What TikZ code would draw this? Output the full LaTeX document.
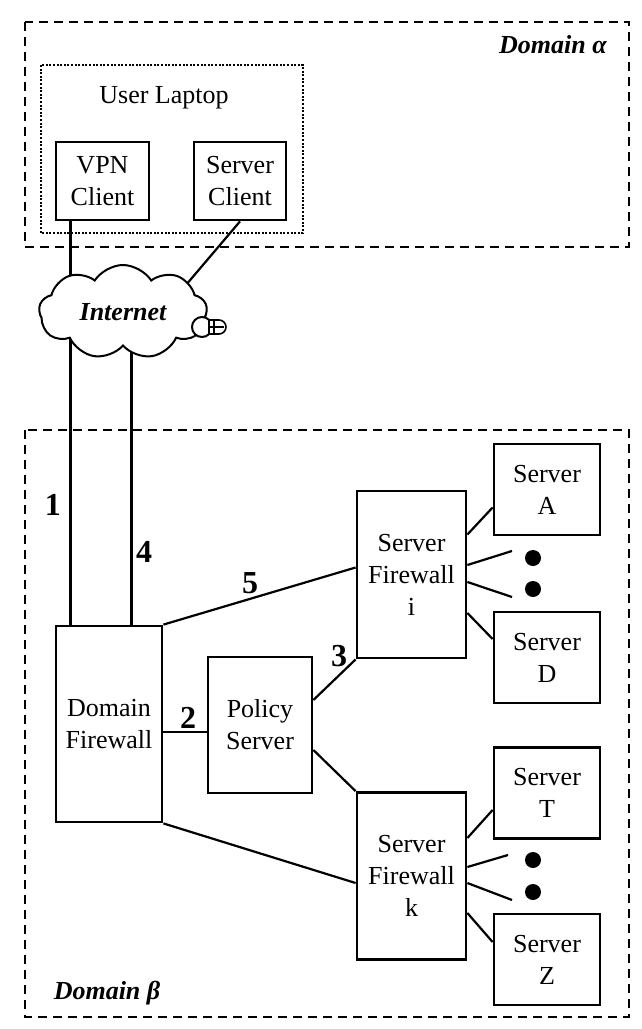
\documentclass[tikz,border=0pt]{standalone}
\usepackage{fontspec}
\setmainfont{Liberation Serif}
\usetikzlibrary{calc, positioning, shapes.symbols}
\pgfdeclarelayer{bg}
\pgfsetlayers{bg,main}

\tikzset{
	box/.style={draw, line width=1.4pt, align=center, inner sep=0pt, font=\fontsize{13}{16}\selectfont},
	fw/.style={minimum width=54.5pt, minimum height=83.5pt},
	srv/.style={minimum width=53pt, minimum height=45.5pt},
	link/.style={line width=1.1pt},
	trunk/.style={line width=1.4pt},
	zonebox/.style={draw, dash pattern=on 4.5pt off 3pt, line width=1.4pt},
	num/.style={font=\fontsize{16}{18}\selectfont\bfseries},
	dname/.style={font=\fontsize{13}{15}\selectfont\bfseries\itshape},
	bullet/.style={circle, fill, inner sep=0pt, minimum size=8pt},
}

\begin{document}
\begin{tikzpicture}[x=0.5pt, y=-0.5pt]
	\useasboundingbox (0,0) rectangle (642,1029);
	
	% domain alpha
	\draw[zonebox] (25,22) rectangle (629,247);
	\node[dname] (alpha) at (553,45) {Domain α};
	\draw[line width=1.2pt, dash pattern=on 1pt off 0.8pt] (41,65) rectangle (303,233);
	\node[font=\fontsize{13}{16}\selectfont] (laptop) at (164,98) {User Laptop};
	\node[box, minimum width=46.5pt, minimum height=39pt] (vpn) at (102.5,181) {VPN\\Client};
	\node[box, minimum width=46pt, minimum height=39pt] (scl) at (240,181) {Server\\Client};
	
	% internet
	\node[cloud, draw, fill=white, line width=1pt, cloud puffs=9, cloud puff arc=115, aspect=1.8,
		minimum width=84pt, minimum height=47pt, inner sep=0pt, dname] (inet) at (123,312) {Internet};
	\draw[line width=1pt, fill=white] (202,327) ellipse (5pt and 5pt);
	\draw[line width=0.8pt, fill=white] (209,320) -- (219,320) arc (90:-90:3.5pt) -- (209,334) -- cycle;
	\draw[line width=0.8pt] (209,327) -- (224,327);
	\draw[line width=0.8pt] (214,320) -- (214,334);
	
	% domain beta
	\draw[zonebox] (25,430) rectangle (629,1017);
	\node[dname] (beta) at (107,993) {Domain β};
	\node[box, minimum width=53pt, minimum height=98pt] (dfw) at (109,724) {Domain\\Firewall};
	\node[box, minimum width=52pt, minimum height=68pt] (pol) at (260,725) {Policy\\Server};
	\node[box, fw] (sfi) at (411.5,574.5) {Server\\Firewall\\i};
	\node[box, fw] (sfk) at (411.5,876) {Server\\Firewall\\k};
	\node[box, srv] (srva) at (547,489.5) {Server\\A};
	\node[box, srv] (srvd) at (547,657.5) {Server\\D};
	\node[box, srv] (srvt) at (547,793) {Server\\T};
	\node[box, srv] (srvz) at (547,959.5) {Server\\Z};
	\node[bullet] (idot1) at (533,558) {};
	\node[bullet] (idot2) at (533,589) {};
	\node[bullet] (kdot1) at (533,860) {};
	\node[bullet] (kdot2) at (533,892) {};
	\coordinate (iend1) at (512,551);
	\coordinate (iend2) at (512,597);
	\coordinate (kend1) at (508,855);
	\coordinate (kend2) at (512,900);
	
	% links to the cloud
	\begin{pgfonlayer}{bg}
		\draw[trunk] ([xshift=8pt]vpn.south west) -- ([xshift=8pt]vpn.south west |- inet.center);
		\draw[link] (scl.south) -- ([xshift=20pt]inet.center);
		\draw[trunk] ([xshift=8pt]dfw.north west) -- ([xshift=8pt]dfw.north west |- inet.center);
		\draw[trunk] ([xshift=38.5pt]dfw.north west) -- ([xshift=38.5pt]dfw.north west |- inet.center);
	\end{pgfonlayer}
	
	% links inside domain beta
	\draw[trunk] ([yshift=-4pt]dfw.east) -- ([yshift=-4pt]dfw.east -| pol.west);
	\draw[link] (dfw.north east) -- ([yshift=3.5pt]sfi.west);
	\draw[link] (dfw.south east) -- ([yshift=-3.5pt]sfk.west);
	\draw[link] ([yshift=12.5pt]pol.east) -- (sfi.south west);
	\draw[link] ([yshift=-12.5pt]pol.east) -- (sfk.north west);
	
	\draw[link] ([yshift=20pt]sfi.east) -- ([yshift=-9pt]srva.west);
	\draw[link] ([yshift=4.75pt]sfi.east) -- (iend1);
	\draw[link] ([yshift=-3.75pt]sfi.east) -- (iend2);
	\draw[link] ([yshift=-19.25pt]sfi.east) -- ([yshift=9.25pt]srvd.west);
	
	\draw[link] ([yshift=19pt]sfk.east) -- ([yshift=-8.5pt]srvt.west);
	\draw[link] ([yshift=4.5pt]sfk.east) -- (kend1);
	\draw[link] ([yshift=-3.5pt]sfk.east) -- (kend2);
	\draw[link] ([yshift=-18.5pt]sfk.east) -- ([yshift=8.75pt]srvz.west);
	
	% step numbers
	\node[num] (n1) at (53,505) {1};
	\node[num] (n2) at (188,718) {2};
	\node[num] (n3) at (339,656) {3};
	\node[num] (n4) at (144,552) {4};
	\node[num] (n5) at (250,583) {5};
	
\end{tikzpicture}
\end{document}
